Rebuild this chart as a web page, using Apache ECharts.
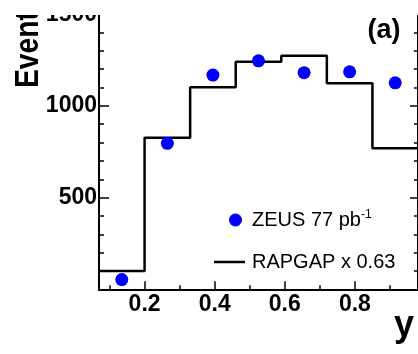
<!DOCTYPE html>
<html><head><meta charset="utf-8">
<script src="https://cdn.jsdelivr.net/npm/echarts@6/dist/echarts.min.js"></script>
<style>html,body{margin:0;padding:0;background:#fff}#c{width:418px;height:354px}</style>
</head><body><div id="c"></div>
<script>
// ---- data ----
const binEdges = [0.07, 0.20, 0.33, 0.46, 0.59, 0.72, 0.85, 0.98];
const rapgap   = [100, 827, 1102, 1241, 1274, 1123, 769];
const zeusX    = [0.135, 0.265, 0.395, 0.525, 0.655, 0.785, 0.915];
const zeusY    = [53, 796, 1168, 1246, 1181, 1186, 1126];
const xMajorTicks = [0.2, 0.4, 0.6, 0.8];
const xMinorTicks = [0.1, 0.3, 0.5, 0.7, 0.9];
const xLabels = ['0.2', '0.4', '0.6', '0.8'];
const zeusName = 'ZEUS 77 pb-1';
const rapgapName = 'RAPGAP x 0.63';
const yTitle = 'Events';
const xTitle = 'y';
const panelTag = '(a)';

const FONT = "'Liberation Sans', Arial, Helvetica, sans-serif";
const histData = binEdges.map((x, i) => [x, i < rapgap.length ? rapgap[i] : rapgap[rapgap.length - 1]]);
const zeusData = zeusX.map((x, i) => [x, zeusY[i]]);

const chart = echarts.init(document.getElementById('c'), null, {renderer: 'canvas'});
const xCommon = {
  type: 'value', min: 0.07, max: 0.98, position: 'bottom', gridIndex: 0,
  splitLine: {show: false},
  axisLine: {show: true, lineStyle: {color: '#000', width: 2}}
};
chart.setOption({
  animation: false,
  backgroundColor: '#fff',
  grid: {left: 99, right: -2, top: 14.2, bottom: 64.7, containLabel: false},
  xAxis: [
    Object.assign({}, xCommon, {
      axisTick: {show: true, inside: true, length: 8, customValues: xMajorTicks, lineStyle: {color: '#000', width: 1.5}},
      axisLabel: {show: true, customValues: xMajorTicks, margin: 4,
        formatter: v => xLabels[xMajorTicks.findIndex(t => Math.abs(t - v) < 1e-6)] || '',
        fontFamily: FONT, fontWeight: 'bold', fontSize: 23, color: '#000'}
    }),
    Object.assign({}, xCommon, {
      axisTick: {show: true, inside: true, length: 4, customValues: xMinorTicks, lineStyle: {color: '#000', width: 1.5}},
      axisLabel: {show: false}
    })
  ],
  yAxis: [
    {type: 'value', min: 0, max: 1500, interval: 500, position: 'left',
      splitLine: {show: false},
      axisLine: {show: true, lineStyle: {color: '#000', width: 2}},
      axisTick: {show: true, inside: true, length: 10, lineStyle: {color: '#000', width: 1.5}},
      minorTick: {show: true, splitNumber: 5, length: 5, lineStyle: {color: '#000', width: 1.5}},
      axisLabel: {showMinLabel: false, margin: 2, formatter: v => String(v),
        fontFamily: FONT, fontWeight: 'bold', fontSize: 23, color: '#000'}
    },
    {type: 'value', min: 0, max: 1500, interval: 500, position: 'right',
      splitLine: {show: false},
      axisLine: {show: true, lineStyle: {color: '#000', width: 2}},
      axisTick: {show: true, inside: true, length: 8, lineStyle: {color: '#000', width: 1.5}},
      minorTick: {show: true, splitNumber: 5, length: 4, lineStyle: {color: '#000', width: 1.5}},
      axisLabel: {show: false}
    }
  ],
  legend: [
    {data: [{name: zeusName, icon: 'circle', itemStyle: {color: '#0000ff', opacity: 1}}], left: 229, top: 209, padding: 0,
      itemWidth: 13, itemHeight: 13, selectedMode: false,
      formatter: () => '{n|ZEUS 77 pb}{s|-1}',
      textStyle: {color: '#000', padding: [0, 0, 0, 5], rich: {
        n: {fontFamily: FONT, fontSize: 20, lineHeight: 22, color: '#000'},
        s: {fontFamily: FONT, fontSize: 12, lineHeight: 12, verticalAlign: 'top', color: '#000'}
      }}
    },
    {data: [{name: rapgapName, icon: 'rect'}], left: 214, top: 251, padding: 0,
      itemWidth: 31, itemHeight: 2.5, selectedMode: false,
      textStyle: {fontFamily: FONT, fontSize: 20, lineHeight: 22, color: '#000', padding: [0, 0, 0, 2]}
    }
  ],
  series: [
    {name: rapgapName, type: 'line', step: 'end', data: histData, xAxisIndex: 0, yAxisIndex: 0,
      symbol: 'none', color: '#000', lineStyle: {color: '#000', width: 2.5}, z: 3},
    {name: zeusName, type: 'scatter', data: zeusData, xAxisIndex: 0, yAxisIndex: 0,
      symbol: 'circle', symbolSize: 13, color: '#0000ff', itemStyle: {color: '#0000ff', opacity: 1}, z: 4}
  ],
  graphic: [
    {type: 'text', x: 28.4, y: 88, rotation: Math.PI / 2, scaleX: 0.83,
      style: {text: yTitle, font: 'bold 34px ' + FONT, fill: '#000', textAlign: 'left', textVerticalAlign: 'middle'}},
    {type: 'text', x: 404, y: 326,
      style: {text: xTitle, font: 'bold 36px ' + FONT, fill: '#000', textAlign: 'center', textVerticalAlign: 'middle'}},
    {type: 'text', x: 384, y: 31,
      style: {text: panelTag, font: 'bold 27px ' + FONT, fill: '#000', textAlign: 'center', textVerticalAlign: 'middle'}},
    {type: 'rect', z: 100, shape: {x: 0, y: 0, width: 418, height: 15}, style: {fill: '#fff'}}
  ]
});
</script>
</body></html>
